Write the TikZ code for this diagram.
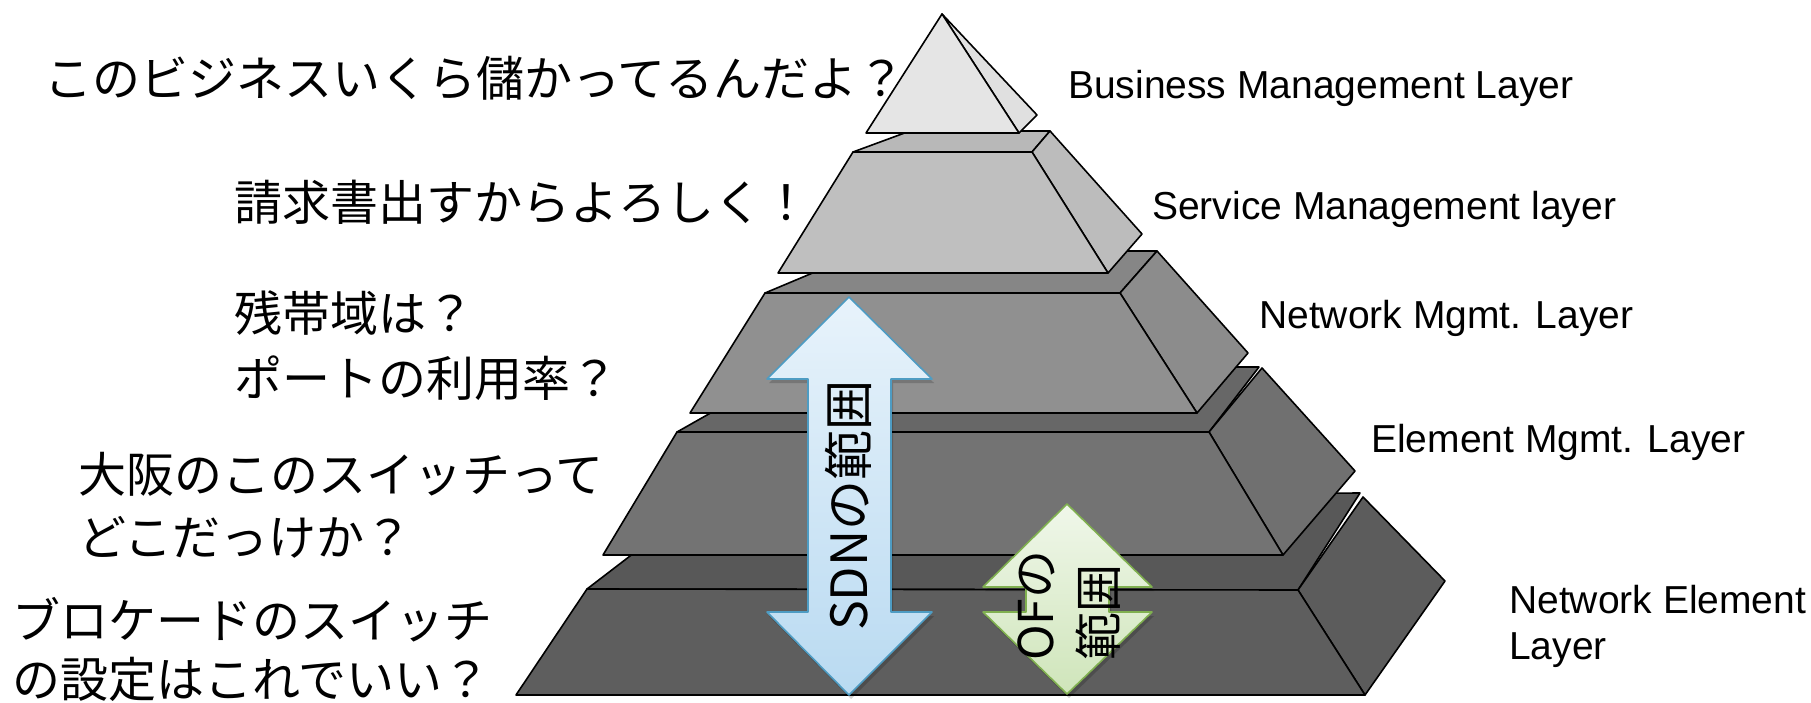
\documentclass[tikz,border=0pt]{standalone}
\usepackage{fontspec}
\setmainfont{Liberation Sans}
\newfontfamily\jpfont{Noto Sans CJK JP}
\definecolor{lAf}{HTML}{E5E5E5}
\definecolor{lAs}{HTML}{E0E0E0}
\definecolor{lBf}{HTML}{BFBFBF}
\definecolor{lBt}{HTML}{B8B8B8}
\definecolor{lBs}{HTML}{BCBCBC}
\definecolor{lCf}{HTML}{909090}
\definecolor{lCt}{HTML}{868686}
\definecolor{lCs}{HTML}{8C8C8C}
\definecolor{lDf}{HTML}{737373}
\definecolor{lDt}{HTML}{676767}
\definecolor{lDs}{HTML}{707070}
\definecolor{lEf}{HTML}{5E5E5E}
\definecolor{lEt}{HTML}{585858}
\definecolor{lEs}{HTML}{5C5C5C}
\definecolor{sdnTop}{HTML}{E8F3FB}
\definecolor{sdnBot}{HTML}{B9DAF1}
\definecolor{sdnLine}{HTML}{4E9CC3}
\definecolor{ofTop}{HTML}{F0F7EA}
\definecolor{ofBot}{HTML}{CFE5BA}
\definecolor{ofLine}{HTML}{80B050}
\begin{document}
\begin{tikzpicture}[x=1pt,y=-1pt,line join=round,
  face/.style={draw=black,line width=1.6pt},
  jptext/.style={font=\jpfont\fontsize{48}{56}\selectfont, inner sep=0pt, anchor=base west},
  entext/.style={font=\fontsize{39}{46}\selectfont, inner sep=0pt, anchor=base west},
  shadowed/.style={fill=black, opacity=0.18},
  sdnarrow/.style={draw=sdnLine, line width=1.6pt, top color=sdnTop, bottom color=sdnBot},
  ofarrow/.style={draw=ofLine, line width=1.6pt, top color=ofTop, bottom color=ofBot},
  arrowtext/.style={font=\jpfont\fontsize{50}{60}\selectfont, inner sep=0pt, rotate=90, anchor=base west},
  oftext/.style={font=\jpfont\fontsize{48}{58}\selectfont, inner sep=0pt, rotate=90, anchor=base west}]
\fill[white] (0,0) rectangle (1811,703);
\useasboundingbox (0,0) rectangle (1811,703);

% Layer 5: Network Element Layer
\path[face, fill=lEt] (587,589) -- (707,497) -- (1360,493) -- (1298,590) -- cycle;
\path[face, fill=lEs] (1298,590) -- (1363,497) -- (1445,581) -- (1365,695) -- cycle;
\path[face, fill=lEf] (516,695) -- (587,589) -- (1298,590) -- (1365,695) -- cycle;

% Layer 4: Element Mgmt. Layer
\path[face, fill=lDt] (677,432) -- (790,368) -- (1259,367) -- (1209,432) -- cycle;
\path[face, fill=lDs] (1209,432) -- (1262,368) -- (1355,471) -- (1283,555) -- cycle;
\path[face, fill=lDf] (603,555) -- (677,432) -- (1209,432) -- (1283,555) -- cycle;

% Layer 3: Network Mgmt. Layer
\path[face, fill=lCt] (765,293) -- (865,251) -- (1157,251) -- (1120,293) -- cycle;
\path[face, fill=lCs] (1120,293) -- (1157,251) -- (1248,353) -- (1197,413) -- cycle;
\path[face, fill=lCf] (690,413) -- (765,293) -- (1120,293) -- (1197,413) -- cycle;

% Layer 2: Service Management layer
\path[face, fill=lBt] (853,152) -- (910,131) -- (1050,131) -- (1032,152) -- cycle;
\path[face, fill=lBs] (1032,152) -- (1050,131) -- (1142,234) -- (1108,273) -- cycle;
\path[face, fill=lBf] (778,273) -- (853,152) -- (1032,152) -- (1108,273) -- cycle;

% Layer 1: Business Management Layer
\path[face, fill=lAs] (942,14) -- (1037,115) -- (1019,133) -- cycle;
\path[face, fill=lAf] (866,133) -- (942,14) -- (1019,133) -- cycle;

% SDN arrow
\path[shadowed, shift={(2,4)}] (849,297) -- (932,379) -- (891,379) -- (891,612) -- (932,612)
  -- (849,695) -- (767,612) -- (808,612) -- (808,379) -- (767,379) -- cycle;
\path[sdnarrow] (849,297) -- (932,379) -- (891,379) -- (891,612) -- (932,612)
  -- (849,695) -- (767,612) -- (808,612) -- (808,379) -- (767,379) -- cycle;
\node[arrowtext] (sdn) at (867,631) {SDNの範囲};

% OF arrow
\path[shadowed, shift={(2,4)}] (1067,504) -- (1152,587) -- (1109,587) -- (1109,612) -- (1152,612)
  -- (1067,694) -- (983,612) -- (1026,612) -- (1026,587) -- (983,587) -- cycle;
\path[ofarrow] (1067,504) -- (1152,587) -- (1109,587) -- (1109,612) -- (1152,612)
  -- (1067,694) -- (983,612) -- (1026,612) -- (1026,587) -- (983,587) -- cycle;
\node[oftext] (of1) at (1053,661) {OFの};
\node[oftext] (of2) at (1116,661) {範囲};

% Left questions
\node[jptext] (q1) at (44,97) {このビジネスいくら儲かってるんだよ？};
\node[jptext] (q2) at (234,221) {請求書出すからよろしく！};
\node[jptext] (q3a) at (234,331) {残帯域は？};
\node[jptext] (q3b) at (234,396) {ポートの利用率？};
\node[jptext] (q4a) at (78,492) {大阪のこのスイッチって};
\node[jptext] (q4b) at (78,555) {どこだっけか？};
\node[jptext] (q5a) at (12,638) {ブロケードのスイッチ};
\node[jptext] (q5b) at (12,697) {の設定はこれでいい？};

% Right layer names
\node[entext] (l1) at (1068,99) {Business Management Layer};
\node[entext] (l2) at (1152,220) {Service Management layer};
\node[entext] (l3) at (1259,328) {Network Mgmt. Layer};
\node[entext] (l4) at (1371,452) {Element Mgmt. Layer};
\node[entext] (l5a) at (1509,613) {Network Element};
\node[entext] (l5b) at (1509,659) {Layer};
\end{tikzpicture}
\end{document}
